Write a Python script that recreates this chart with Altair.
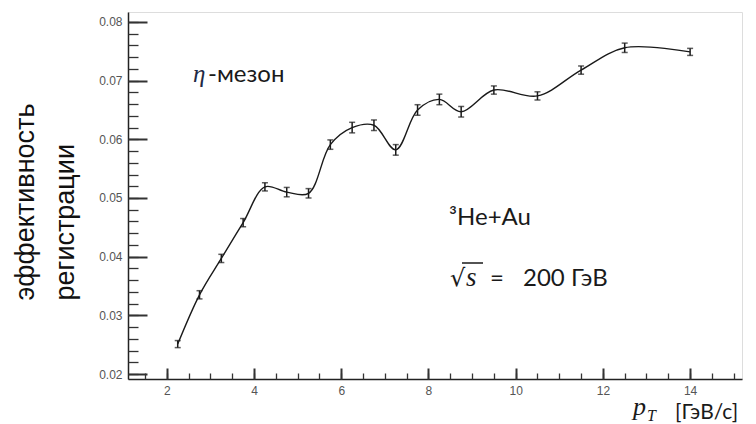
import altair as alt
import pandas as pd

# Detection efficiency of eta mesons in 3He+Au collisions vs transverse momentum
pt = [2.25, 2.75, 3.25, 3.75, 4.25, 4.75, 5.25, 5.75, 6.25, 6.75,
      7.25, 7.75, 8.25, 8.75, 9.5, 10.5, 11.5, 12.5, 14.0]
eff = [0.0251, 0.0335, 0.0397, 0.0458, 0.0519, 0.0510, 0.0508, 0.0591, 0.0620, 0.0624,
       0.0582, 0.0650, 0.0668, 0.0647, 0.0684, 0.0674, 0.0718, 0.0756, 0.0749]
err = [0.0006, 0.0007, 0.0007, 0.0007, 0.0007, 0.0008, 0.0008, 0.0008, 0.0009, 0.0009,
       0.0009, 0.0009, 0.0009, 0.0009, 0.0007, 0.0007, 0.0007, 0.0008, 0.0006]

x_major = [2, 4, 6, 8, 10, 12, 14]
x_minor = [1.5 + 0.5 * i for i in range(28)]
y_major = [0.02, 0.03, 0.04, 0.05, 0.06, 0.07, 0.08]
y_minor = [round(0.02 + 0.002 * i, 3) for i in range(31)]

df = pd.DataFrame({"pt": pt, "eff": eff, "err": err})
df["lo"] = df["eff"] - df["err"]
df["hi"] = df["eff"] + df["err"]

W, H = 614, 367
INK = "#1a1a1a"
TICK = "#333333"
LABEL_FONT = "Liberation Sans"
TEXT_FONT = "Lato"
MATH_FONT = "Liberation Serif"

xs = alt.Scale(domain=[1.11, 15.19], nice=False, zero=False)
ys = alt.Scale(domain=[0.01915, 0.0817], nice=False, zero=False)

# Label axes (no ticks); ticks are drawn inward by separate axes below
x_label_axis = alt.Axis(values=x_major, ticks=False, format="d", labelFont=LABEL_FONT,
                        labelFontSize=12, labelColor="#555555", labelPadding=6,
                        domainColor="#222222", domainWidth=1.5, grid=False, title=None)
y_label_axis = alt.Axis(values=y_major, ticks=False, format=".2f", labelFont=LABEL_FONT,
                        labelFontSize=12, labelColor="#555555", labelPadding=6,
                        domainColor="#222222", domainWidth=1.5, grid=False,
                        title=["эффективность", "регистрации"], titleFont=LABEL_FONT,
                        titleFontSize=27, titleFontWeight="normal", titleColor="#111111",
                        titleLineHeight=40, titleAngle=270, titleAlign="left",
                        titleBaseline="alphabetic", titleX=-95, titleY=288)

x_major_ticks = alt.Axis(orient="top", offset=-H, values=x_major, labels=False, domain=False,
                         tickSize=11, tickWidth=2, tickColor=TICK, grid=False, title=None)
y_major_ticks = alt.Axis(orient="right", offset=-W, values=y_major, labels=False, domain=False,
                         tickSize=19, tickWidth=2, tickColor=TICK, grid=False, title=None)
x_minor_ticks = alt.Axis(orient="top", offset=-H, values=x_minor, labels=False, domain=False,
                         tickSize=6, tickWidth=1.3, tickColor=TICK, grid=False, title=None)
y_minor_ticks = alt.Axis(orient="right", offset=-W, values=y_minor, labels=False, domain=False,
                         tickSize=10, tickWidth=1.3, tickColor=TICK, grid=False, title=None)

base = alt.Chart(df)

curve = base.mark_line(interpolate="catmull-rom", color=INK, strokeWidth=1.4).encode(
    x=alt.X("pt:Q", scale=xs, axis=x_label_axis),
    y=alt.Y("eff:Q", scale=ys, axis=y_label_axis),
)
bars = base.mark_rule(color=INK, strokeWidth=1.5).encode(
    x=alt.X("pt:Q", scale=xs, axis=x_major_ticks),
    y=alt.Y("lo:Q", scale=ys, axis=y_major_ticks),
    y2="hi:Q",
)
cap_lo = base.mark_tick(orient="horizontal", size=6, thickness=1.5, color=INK).encode(
    x=alt.X("pt:Q", scale=xs, axis=x_minor_ticks),
    y=alt.Y("lo:Q", scale=ys, axis=y_minor_ticks),
)
cap_hi = base.mark_tick(orient="horizontal", size=6, thickness=1.5, color=INK).encode(
    x=alt.X("pt:Q", scale=xs, axis=None),
    y=alt.Y("hi:Q", scale=ys, axis=None),
)

one = alt.Data(values=[{}])


def note(text, x, y, font=TEXT_FONT, size=24, style="normal", color=INK):
    return alt.Chart(one).mark_text(text=text, x=x, y=y, font=font, fontSize=size,
                                    fontStyle=style, align="left", baseline="alphabetic",
                                    color=color)


notes = [
    note("η", 65, 70, font=MATH_FONT, size=25, style="italic", color="#1f2a44"),
    note("-мезон", 80, 70),
    note("³He+Au", 321, 213),
    note("√", 322, 274, font="DejaVu Sans", size=24),
    note("s", 338, 274, font=MATH_FONT, size=27, style="italic"),
    note("=", 362, 274),
    note("200 ГэВ", 395, 274),
    note("p", 505, 403, font=MATH_FONT, size=26, style="italic"),
    note("T", 519, 409, font=MATH_FONT, size=16, style="italic"),
    note("[ГэВ/с]", 547, 407, size=21),
]

radical_bar = alt.Chart(one).mark_rule(color=INK, strokeWidth=1.5).encode(
    x=alt.value(334), x2=alt.value(355), y=alt.value(251)
)

chart = alt.layer(curve, bars, cap_lo, cap_hi, radical_bar, *notes).resolve_axis(
    x="independent", y="independent"
).properties(
    width=W, height=H,
    autosize=alt.AutoSizeParams(type="none"),
    padding={"left": 128, "top": 12, "right": 14, "bottom": 45},
).configure_view(stroke="#555555", strokeWidth=1.5).configure(background="white")

chart.save("out.html", embed_options={"renderer": "svg", "actions": False})
